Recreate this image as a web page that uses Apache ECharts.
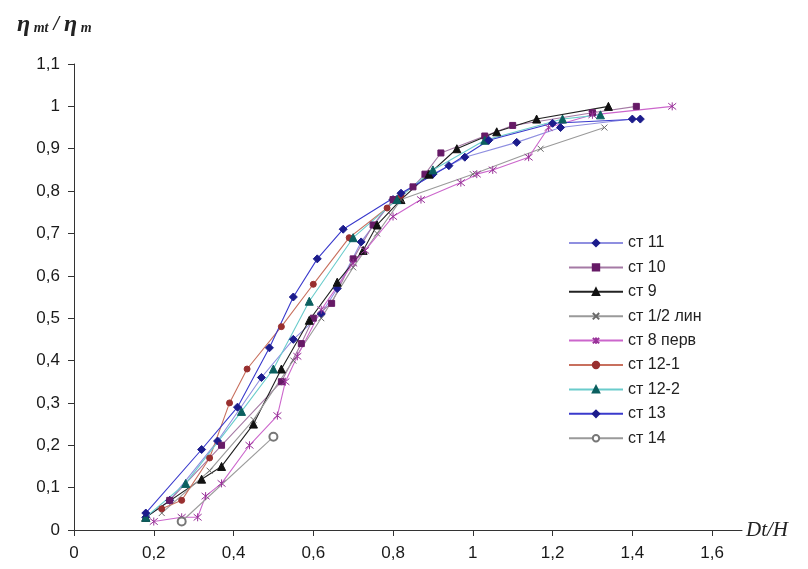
<!DOCTYPE html>
<html>
<head>
<meta charset="utf-8">
<script src="https://cdn.jsdelivr.net/npm/echarts@6/dist/echarts.min.js"></script>
<style>
  html, body { margin: 0; padding: 0; background: #fff; }
  #chart { width: 808px; height: 569px; }
</style>
</head>
<body>
<div id="chart"></div>
<script>
// значения: [Dt/H, ηmt/ηm]
var st11 = [[0.18,0.03],[0.24,0.07],[0.36,0.21],[0.47,0.36],[0.55,0.45],[0.62,0.51],[0.66,0.57],[0.72,0.68],[0.80,0.78],[0.90,0.84],[0.98,0.88],[1.11,0.915],[1.22,0.95],[1.40,0.97]];
var st10 = [[0.24,0.07],[0.37,0.20],[0.52,0.35],[0.57,0.44],[0.60,0.50],[0.646,0.535],[0.70,0.64],[0.75,0.72],[0.80,0.78],[0.85,0.81],[0.88,0.84],[0.92,0.89],[1.03,0.93],[1.10,0.955],[1.30,0.985],[1.41,1.0]];
var st9 = [[0.18,0.03],[0.32,0.12],[0.37,0.15],[0.45,0.25],[0.52,0.38],[0.59,0.495],[0.66,0.585],[0.725,0.66],[0.76,0.72],[0.82,0.78],[0.89,0.84],[0.96,0.90],[1.06,0.94],[1.16,0.97],[1.34,1.0]];
var st12lin = [[0.22,0.04],[0.34,0.14],[0.45,0.26],[0.55,0.40],[0.62,0.50],[0.70,0.62],[0.76,0.70],[0.82,0.78],[1.00,0.84],[1.17,0.90],[1.33,0.95]];
var st8 = [[0.20,0.02],[0.27,0.03],[0.31,0.03],[0.33,0.08],[0.37,0.11],[0.44,0.20],[0.51,0.27],[0.53,0.35],[0.56,0.41],[0.62,0.52],[0.70,0.63],[0.73,0.66],[0.80,0.74],[0.87,0.78],[0.97,0.82],[1.01,0.84],[1.05,0.85],[1.14,0.88],[1.19,0.95],[1.30,0.98],[1.50,1.0]];
var st12_1 = [[0.22,0.05],[0.27,0.07],[0.34,0.17],[0.39,0.30],[0.434,0.38],[0.52,0.48],[0.60,0.58],[0.69,0.69],[0.785,0.76],[0.82,0.79]];
var st12_2 = [[0.18,0.03],[0.28,0.11],[0.42,0.28],[0.50,0.38],[0.59,0.54],[0.70,0.69],[0.81,0.78],[0.90,0.85],[1.03,0.92],[1.225,0.97],[1.32,0.98]];
var st13 = [[0.18,0.04],[0.32,0.19],[0.41,0.29],[0.49,0.43],[0.55,0.55],[0.61,0.64],[0.675,0.71],[0.82,0.795],[0.94,0.86],[1.04,0.92],[1.20,0.96],[1.42,0.97]];
var st14 = [[0.27,0.02],[0.50,0.22]];

var xTicks = [0, 0.2, 0.4, 0.6, 0.8, 1, 1.2, 1.4, 1.6];
var names = ['ст 11', 'ст 10', 'ст 9', 'ст 1/2 лин', 'ст 8 перв', 'ст 12-1', 'ст 12-2', 'ст 13', 'ст 14'];

var crossPath = 'path://M0,0L10,10M10,0L0,10';
var starPath = 'path://M5,0L5,10M1,1L9,9M9,1L1,9';

function comma(v) {
	return String(+(+v).toFixed(2)).replace('.', ',');
}

function mkSeries(name, data, lineColor, markColor, symbol, size) {
	return {
		name: name,
		type: 'line',
		data: data,
		symbol: symbol,
		symbolSize: size,
		lineStyle: { color: lineColor, width: 1.1 },
		itemStyle: { color: markColor, borderColor: markColor, borderWidth: 1 },
		emphasis: { disabled: true },
		z: 2
	};
}

var chart = echarts.init(document.getElementById('chart'));

var option = {
	backgroundColor: '#fff',
	animation: false,
	title: {
		left: 12,
		top: 8,
		text: '{a|η}{b| mt}{c| / }{a|η}{b| m}',
		textStyle: {
			rich: {
				a: { fontFamily: 'Liberation Serif', fontStyle: 'italic', fontSize: 24, color: '#222' },
				b: { fontFamily: 'Liberation Serif', fontStyle: 'italic', fontSize: 14, color: '#222', padding: [6, 0, 0, 0] },
				c: { fontFamily: 'Liberation Serif', fontStyle: 'italic', fontSize: 20, color: '#222' }
			}
		}
	},
	legend: {
		orient: 'vertical',
		left: 563,
		top: 230,
		itemWidth: 54,
		itemHeight: 8,
		itemGap: 8.4,
		data: names,
		textStyle: { fontFamily: 'Liberation Sans', fontSize: 16, color: '#222' }
	},
	grid: {
		left: 74,
		right: 66,
		top: 64,
		bottom: 39,
		containLabel: false
	},
	xAxis: {
		type: 'value',
		min: 0,
		max: 1.675,
		name: 'Dt/H',
		nameLocation: 'end',
		nameGap: 4,
		nameTextStyle: { fontFamily: 'Liberation Serif', fontStyle: 'italic', fontSize: 21, color: '#222', verticalAlign: 'middle' },
		splitLine: { show: false },
		axisLine: { lineStyle: { color: '#333', width: 1 } },
		axisTick: { show: true, length: 6, inside: false, customValues: xTicks, lineStyle: { color: '#333' } },
		axisLabel: {
			customValues: xTicks,
			margin: 15,
			fontFamily: 'Liberation Sans',
			fontSize: 17,
			color: '#1a1a1a',
			formatter: comma
		}
	},
	yAxis: {
		type: 'value',
		min: 0,
		max: 1.1,
		interval: 0.1,
		splitLine: { show: false },
		axisLine: { show: true, lineStyle: { color: '#333', width: 1 } },
		axisTick: { show: true, length: 6, lineStyle: { color: '#333' } },
		axisLabel: {
			margin: 14,
			fontFamily: 'Liberation Sans',
			fontSize: 17,
			color: '#1a1a1a',
			formatter: comma
		}
	},
	series: [
		mkSeries('ст 11', st11, '#8f8fe0', '#1c1c8c', 'diamond', 8),
		mkSeries('ст 10', st10, '#a57aa5', '#661a66', 'rect', 6),
		mkSeries('ст 9', st9, '#222222', '#111111', 'triangle', 8),
		mkSeries('ст 1/2 лин', st12lin, '#9a9a9a', '#6a6a6a', crossPath, 6),
		mkSeries('ст 8 перв', st8, '#cc66cc', '#993399', starPath, 8),
		mkSeries('ст 12-1', st12_1, '#c8705e', '#992f2f', 'circle', 6),
		mkSeries('ст 12-2', st12_2, '#6acccc', '#0b5f5f', 'triangle', 8),
		mkSeries('ст 13', st13, '#3a3acc', '#1c1c8c', 'diamond', 8),
		mkSeries('ст 14', st14, '#9a9a9a', '#777777', 'emptyCircle', 8)
	]
};

chart.setOption(option);
</script>
</body>
</html>
